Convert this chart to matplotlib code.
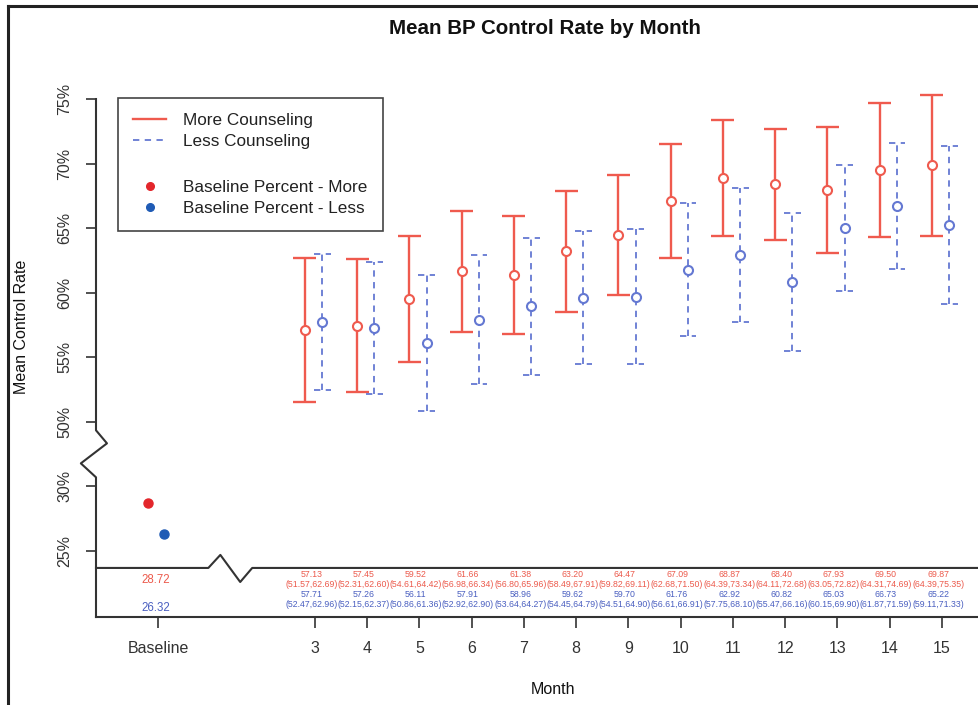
import matplotlib.pyplot as plt
from matplotlib.lines import Line2D

plt.rcParams['font.family'] = ['Liberation Sans', 'DejaVu Sans']

# data
months = [3, 4, 5, 6, 7, 8, 9, 10, 11, 12, 13, 14, 15]
more_mean = [57.13, 57.45, 59.52, 61.66, 61.38, 63.20, 64.47, 67.09, 68.87, 68.40, 67.93, 69.50, 69.87]
more_low = [51.57, 52.31, 54.61, 56.98, 56.80, 58.49, 59.82, 62.68, 64.39, 64.11, 63.05, 64.31, 64.39]
more_high = [62.69, 62.60, 64.42, 66.34, 65.96, 67.91, 69.11, 71.50, 73.34, 72.68, 72.82, 74.69, 75.35]
less_mean = [57.71, 57.26, 56.11, 57.91, 58.96, 59.62, 59.70, 61.76, 62.92, 60.82, 65.03, 66.73, 65.22]
less_low = [52.47, 52.15, 50.86, 52.92, 53.64, 54.45, 54.51, 56.61, 57.75, 55.47, 60.15, 61.87, 59.11]
less_high = [62.96, 62.37, 61.36, 62.90, 64.27, 64.79, 64.90, 66.91, 68.10, 66.16, 69.90, 71.59, 71.33]
baseline_more = 28.72
baseline_less = 26.32
ytick_values = [25, 30, 50, 55, 60, 65, 70, 75]

RED = '#ef5a4e'
BLUE = '#6478d2'
DOT_RED = '#e3262b'
DOT_BLUE = '#1f5bb5'
TXT_RED = '#ec5a4c'
TXT_BLUE = '#4a5fc0'
GRAY = '#333333'


def squash(v):
    # broken axis: everything below 50 is moved up by 15 points
    return v if v >= 50 else v + 15


fig = plt.figure(figsize=(9.79, 7.05), dpi=100)
ax = fig.add_axes([96 / 979, 88 / 705, 883 / 979, 543.8 / 705])
ax.set_xlim(-1.19, 15.71)
ax.set_ylim(34.88, 77)

x_more = [m - 0.19 for m in months]
x_less = [m + 0.14 for m in months]

# more counseling: solid bars
ax.vlines(x_more, more_low, more_high, color=RED, lw=1.7)
ax.hlines(more_low, [x - 0.22 for x in x_more], [x + 0.22 for x in x_more], color=RED, lw=1.7)
ax.hlines(more_high, [x - 0.22 for x in x_more], [x + 0.22 for x in x_more], color=RED, lw=1.7)
ax.plot(x_more, more_mean, ls='', marker='o', ms=6.5, mfc='white', mec=RED, mew=1.5)

# less counseling: dashed bars
dash = (0, (3.5, 3))
ax.vlines(x_less, less_low, less_high, color=BLUE, lw=1.3, linestyles=[dash])
ax.hlines(less_low, [x - 0.16 for x in x_less], [x + 0.16 for x in x_less], color=BLUE, lw=1.3, linestyles=[dash])
ax.hlines(less_high, [x - 0.16 for x in x_less], [x + 0.16 for x in x_less], color=BLUE, lw=1.3, linestyles=[dash])
ax.plot(x_less, less_mean, ls='', marker='o', ms=6.5, mfc='white', mec=BLUE, mew=1.5)

# baseline dots
ax.plot([-0.19], [squash(baseline_more)], ls='', marker='o', ms=6.5, color=DOT_RED)
ax.plot([0.11], [squash(baseline_less)], ls='', marker='o', ms=6.5, color=DOT_BLUE)

# table box under the plot
box_top = 38.68
x0 = -1.19
ax.plot([x0, 0.96, 1.19, 1.57, 1.80, 15.71], [box_top, box_top, 39.69, 37.59, box_top, box_top],
        color=GRAY, lw=1.5, clip_on=False)
# left axis with the break
ax.plot([x0, x0, x0 + 0.21, x0 - 0.29, x0, x0], [75, 49.34, 48.33, 46.78, 45.70, 34.88],
        color=GRAY, lw=1.5, clip_on=False)

fs_tab = 6.3
for i, m in enumerate(months):
    xt = m - 0.07
    ax.text(xt, 38.14, f"{more_mean[i]:.2f}", color=TXT_RED, fontsize=fs_tab, ha='center', va='center')
    ax.text(xt, 37.36, f"({more_low[i]:.2f},{more_high[i]:.2f})", color=TXT_RED, fontsize=fs_tab,
            ha='center', va='center')
    ax.text(xt, 36.59, f"{less_mean[i]:.2f}", color=TXT_BLUE, fontsize=fs_tab, ha='center', va='center')
    ax.text(xt, 35.81, f"({less_low[i]:.2f},{less_high[i]:.2f})", color=TXT_BLUE, fontsize=fs_tab,
            ha='center', va='center')
ax.text(-0.05, 37.75, f"{baseline_more:.2f}", color=TXT_RED, fontsize=8.3, ha='center', va='center')
ax.text(-0.05, 35.58, f"{baseline_less:.2f}", color=TXT_BLUE, fontsize=8.3, ha='center', va='center')

for side in ['left', 'top', 'right']:
    ax.spines[side].set_visible(False)
ax.spines['bottom'].set_color(GRAY)
ax.spines['bottom'].set_linewidth(1.5)

ax.set_xticks([0] + months)
ax.set_xticklabels(['Baseline'] + [str(m) for m in months])
ax.set_yticks([squash(v) for v in ytick_values])
ax.set_yticklabels([f"{v}%" for v in ytick_values], rotation=90, va='center')
ax.tick_params(axis='x', length=8, width=1.2, pad=9, labelsize=11.5, colors=GRAY)
ax.tick_params(axis='y', length=7, width=1.2, pad=10, labelsize=11.5, colors=GRAY)

handles = [
    Line2D([], [], color=RED, lw=1.7),
    Line2D([], [], color=BLUE, lw=1.3, ls=dash),
    Line2D([], [], alpha=0),
    Line2D([], [], ls='', marker='o', ms=5.5, color=DOT_RED),
    Line2D([], [], ls='', marker='o', ms=5.5, color=DOT_BLUE),
]
labels = ['More Counseling', 'Less Counseling', ' ', 'Baseline Percent - More', 'Baseline Percent - Less']
leg = ax.legend(handles, labels, loc='upper left', bbox_to_anchor=(118 / 979, 1 - 98 / 705),
                bbox_transform=fig.transFigure, borderaxespad=0, fancybox=False, framealpha=1,
                edgecolor='#444444', fontsize=12.3, handlelength=1.9, handletextpad=1.0,
                labelspacing=0.34, borderpad=0.9)
leg.get_frame().set_linewidth(1.2)
for t in leg.get_texts():
    t.set_color('#222222')
leg.get_texts()[2].set_fontsize(15.4)

fig.text(545 / 979, 1 - 28 / 705, 'Mean BP Control Rate by Month', ha='center', va='center',
         fontsize=14.8, fontweight='bold', color='#111111')
fig.text(22 / 979, 1 - 327 / 705, 'Mean Control Rate', rotation=90, ha='center', va='center',
         fontsize=11.5, color='#111111')
fig.text(553 / 979, 1 - 690 / 705, 'Month', ha='center', va='center', fontsize=11.5, color='#111111')

# outer frame (cropped on the right and bottom)
fig.add_artist(Line2D([8 / 979, 8 / 979], [0, 1 - 6 / 705], color='#222222', lw=2.2))
fig.add_artist(Line2D([8 / 979, 1], [1 - 6 / 705, 1 - 6 / 705], color='#222222', lw=2.2))

fig.savefig('out.png', dpi=100)
